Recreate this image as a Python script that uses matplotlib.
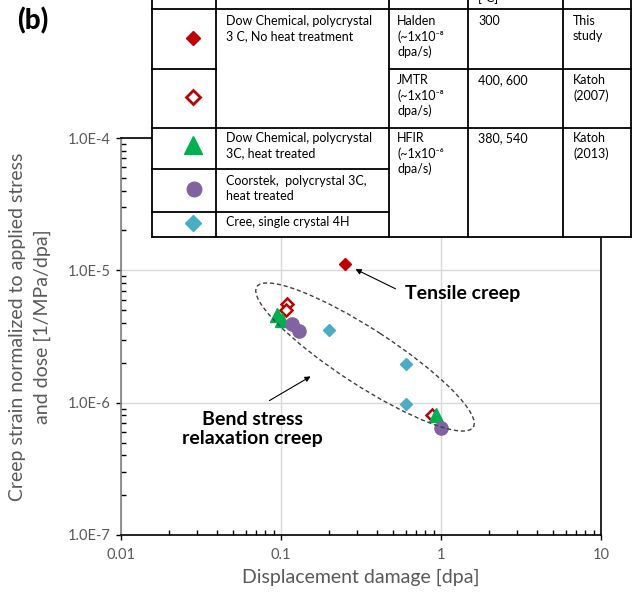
import math
import matplotlib
matplotlib.use("Agg")
import matplotlib.pyplot as plt
from matplotlib.patches import Ellipse, Rectangle
from matplotlib.ticker import LogLocator, FuncFormatter, NullFormatter

plt.rcParams["font.family"] = ["Lato", "DejaVu Sans"]

# data: displacement damage [dpa] vs normalized creep strain
halden_dpa = [0.25]
halden_strain = [1.12e-5]
jmtr_dpa = [0.109, 0.107, 0.88]
jmtr_strain = [5.6e-6, 5.0e-6, 8.0e-7]
dow_ht_dpa = [0.094, 0.102, 0.93]
dow_ht_strain = [4.6e-6, 4.2e-6, 8.0e-7]
coorstek_dpa = [0.117, 0.13, 1.0]
coorstek_strain = [3.9e-6, 3.5e-6, 6.4e-7]
cree_dpa = [0.2, 0.6, 0.6]
cree_strain = [3.55e-6, 1.96e-6, 9.7e-7]

RED = "#C00000"
GREEN = "#00B050"
PURPLE = "#8064A2"
CYAN = "#4BACC6"
GRAY = "#595959"

fig = plt.figure(figsize=(6.37, 5.92), dpi=100)
ax = fig.add_axes([121 / 637, 57 / 592, 480 / 637, 397 / 592])

ax.plot(halden_dpa, halden_strain, "D", color=RED, ms=6.5, ls="none")
ax.plot(jmtr_dpa, jmtr_strain, "D", mfc="white", mec=RED, mew=1.8, ms=6, ls="none")
ax.plot(dow_ht_dpa, dow_ht_strain, "^", color=GREEN, ms=10, ls="none")
ax.plot(coorstek_dpa, coorstek_strain, "o", color=PURPLE, ms=9.5, ls="none")
ax.plot(cree_dpa, cree_strain, "D", color=CYAN, ms=6.5, ls="none")

ax.set_xscale("log")
ax.set_yscale("log")
ax.set_xlim(0.01, 10)
ax.set_ylim(1e-7, 1e-4)
ax.xaxis.set_major_locator(LogLocator(base=10))
ax.yaxis.set_major_locator(LogLocator(base=10))
ax.xaxis.set_minor_locator(LogLocator(base=10, subs=range(2, 10)))
ax.yaxis.set_minor_locator(LogLocator(base=10, subs=range(2, 10)))
ax.xaxis.set_minor_formatter(NullFormatter())
ax.yaxis.set_minor_formatter(NullFormatter())
ax.xaxis.set_major_formatter(FuncFormatter(lambda v, p: f"{v:g}"))
ax.yaxis.set_major_formatter(FuncFormatter(lambda v, p: "1.0E%d" % round(math.log10(v))))

ax.grid(True, which="major", color="#d9d9d9", lw=1)
ax.set_axisbelow(True)
ax.tick_params(which="major", direction="out", length=3.3, width=1, labelsize=10.5,
               labelcolor=GRAY)
ax.tick_params(axis="x", which="major", pad=6)
ax.tick_params(axis="y", which="major", pad=4)
ax.tick_params(which="minor", direction="in", length=3.3, width=1)
for side in ["top", "right", "bottom"]:
    ax.spines[side].set_color("black")
    ax.spines[side].set_linewidth(1.2)
ax.spines["left"].set_color("#7f7f7f")
ax.spines["left"].set_linewidth(1.2)

# overlay in figure pixels (top-left origin) for table, notes and labels
ov = fig.add_axes([0, 0, 1, 1])
ov.set_xlim(0, 637)
ov.set_ylim(592, 0)
ov.axis("off")

ov.text(361, 577, "Displacement damage [dpa]", ha="center", va="center",
        fontsize=14, color=GRAY)
ov.text(18, 327, "Creep strain normalized to applied stress", ha="center", va="center",
        rotation=90, fontsize=14, color=GRAY)
ov.text(42, 327, "and dose [1/MPa/dpa]", ha="center", va="center",
        rotation=90, fontsize=14, color=GRAY)
ov.text(33, 21, "(b)", ha="center", va="center", fontsize=20, fontweight="black")

# dashed ellipse and arrows
ov.add_patch(Ellipse((365, 357), 258, 56, angle=33, fill=False, ls=(0, (3, 2)),
                     lw=1, ec="#404040"))
ov.annotate("", xy=(353, 268), xytext=(398, 290),
            arrowprops=dict(arrowstyle="-|>", color="black", lw=0.8, mutation_scale=8))
ov.annotate("", xy=(313, 375), xytext=(267, 402),
            arrowprops=dict(arrowstyle="-|>", color="black", lw=0.8, mutation_scale=8))
ov.text(405, 293, "Tensile creep", ha="left", va="center", fontsize=14, fontweight="bold")
ov.text(252, 429, "Bend stress\nrelaxation creep", ha="center", va="center",
        fontsize=14, fontweight="bold", linespacing=1.1)

# table
ov.add_patch(Rectangle((152, -5), 479, 242, fc="white", ec="none", zorder=1))
lw_t = 1.3
for xv in [152, 216, 389, 468, 563, 631]:
    ov.plot([xv, xv], [-5, 237], color="black", lw=lw_t, zorder=2)
for yv, x0, x1 in [(9, 152, 631), (68.5, 152, 216), (68.5, 389, 631), (127.5, 152, 631),
                   (169, 152, 389), (212, 152, 389), (237, 152, 631)]:
    ov.plot([x0, x1], [yv, yv], color="black", lw=lw_t, zorder=2)

ov.plot(193, 38, "D", color=RED, ms=7.5, zorder=3)
ov.plot(193, 97, "D", mfc="white", mec=RED, mew=2, ms=7, zorder=3)
ov.plot(193, 145, "^", color=GREEN, ms=13, zorder=3)
ov.plot(194, 189, "o", color=PURPLE, ms=10.5, zorder=3)
ov.plot(193, 223, "D", color=CYAN, ms=8, zorder=3)

sample_text = ["Dow Chemical, polycrystal\n3 C, No heat treatment",
               "Dow Chemical, polycrystal\n3C, heat treated",
               "Coorstek,  polycrystal 3C,\nheat treated",
               "Cree, single crystal 4H"]
reactor_text = ["Halden\n(~1x10⁻⁸\ndpa/s)",
                "JMTR\n(~1x10⁻⁸\ndpa/s)",
                "HFIR\n(~1x10⁻⁶\ndpa/s)"]
temp_text = ["300", "400, 600", "380, 540"]
ref_text = ["This\nstudy", "Katoh\n(2007)", "Katoh\n(2013)"]

tkw = dict(ha="left", va="top", fontsize=9, linespacing=1.3, zorder=3)
for s, yv in zip(sample_text, [15, 132, 175, 216]):
    ov.text(226, yv, s, **tkw)
for s, yv in zip(reactor_text, [15, 74, 132]):
    ov.text(397, yv, s, **tkw)
for s, yv in zip(temp_text, [15, 74, 132]):
    ov.text(478, yv, s, **tkw)
for s, yv in zip(ref_text, [15, 74, 132]):
    ov.text(573, yv, s, **tkw)
ov.text(478, 4, "[°C]", ha="left", va="bottom", fontsize=9, zorder=3)

fig.savefig("out.png", dpi=100)
